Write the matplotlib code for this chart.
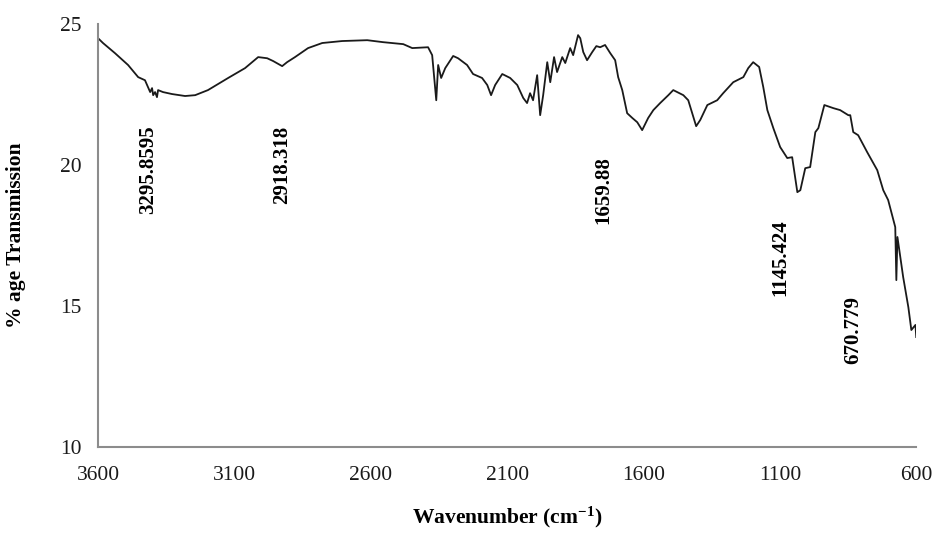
import matplotlib
matplotlib.use("Agg")
import matplotlib.pyplot as plt

# Spectrum: wavenumber (cm-1) and % transmission
wavenumber = [3600, 3582, 3538, 3490, 3453, 3428, 3417, 3409, 3402, 3398, 3391, 3384,
              3380, 3362, 3329, 3281, 3244, 3197, 3123, 3061, 3013, 2980, 2958, 2925,
              2907, 2878, 2830, 2778, 2705, 2613, 2555, 2481, 2448, 2390, 2375, 2360,
              2353, 2342, 2327, 2298, 2280, 2247, 2225, 2192, 2173, 2159, 2144, 2118,
              2089, 2063, 2041, 2027, 2016, 2005, 1990, 1979, 1968, 1953, 1942, 1928,
              1917, 1898, 1887, 1869, 1858, 1840, 1832, 1821, 1807, 1788, 1773, 1759,
              1741, 1722, 1704, 1693, 1678, 1660, 1641, 1623, 1605, 1583, 1564, 1539,
              1509, 1491, 1454, 1436, 1407, 1392, 1366, 1330, 1308, 1271, 1234, 1216,
              1198, 1176, 1161, 1146, 1124, 1099, 1073, 1055, 1036, 1025, 1007, 989,
              970, 959, 937, 904, 879, 849, 842, 831, 813, 780, 743, 721, 703, 677,
              673, 669, 648, 629, 618, 603, 600]
transmission = [24.50, 24.33, 23.97, 23.55, 23.12, 23.01, 22.77, 22.59, 22.73, 22.48, 22.59, 22.41,
                22.66, 22.59, 22.52, 22.45, 22.48, 22.66, 23.09, 23.44, 23.83, 23.79, 23.69, 23.51,
                23.65, 23.83, 24.15, 24.33, 24.40, 24.43, 24.36, 24.29, 24.15, 24.18, 23.90, 22.30,
                23.55, 23.09, 23.44, 23.87, 23.79, 23.55, 23.23, 23.09, 22.84, 22.48, 22.84, 23.23,
                23.09, 22.84, 22.38, 22.20, 22.55, 22.30, 23.19, 21.77, 22.48, 23.65, 22.94, 23.83,
                23.30, 23.83, 23.62, 24.15, 23.90, 24.61, 24.50, 24.01, 23.72, 24.01, 24.22, 24.18,
                24.26, 23.97, 23.72, 23.12, 22.66, 21.84, 21.67, 21.52, 21.24, 21.67, 21.95, 22.20,
                22.48, 22.66, 22.48, 22.30, 21.38, 21.60, 22.13, 22.30, 22.55, 22.94, 23.12, 23.44,
                23.65, 23.48, 22.77, 21.95, 21.31, 20.64, 20.25, 20.28, 19.04, 19.11, 19.89, 19.93,
                21.17, 21.31, 22.13, 22.02, 21.95, 21.77, 21.77, 21.17, 21.06, 20.46, 19.82, 19.11,
                18.76, 17.80, 15.92, 17.45, 16.03, 14.96, 14.15, 14.33, 13.90]

peak_labels = ["3295.8595", "2918.318", "1659.88", "1145.424", "670.779"]
label_x = [3416, 2925, 1748, 1099, 831]
label_y = [19.82, 20.0, 19.11, 16.70, 14.15]

x_ticks = [3600, 3100, 2600, 2100, 1600, 1100, 600]
y_ticks = [10, 15, 20, 25]

serif = ["Liberation Serif", "DejaVu Serif"]
plt.rcParams["font.family"] = serif
plt.rcParams["mathtext.fontset"] = "custom"
plt.rcParams["mathtext.rm"] = "Liberation Serif:bold"
plt.rcParams["mathtext.bf"] = "Liberation Serif:bold"
plt.rcParams["mathtext.it"] = "Liberation Serif:bold:italic"

fig = plt.figure(figsize=(9.34, 5.36), dpi=100)
ax = fig.add_axes([0.105, 0.166, 0.876, 0.789])

ax.plot(wavenumber, transmission, color="#1a1a1a", linewidth=1.3)

ax.set_xlim(3600, 600)
ax.set_ylim(10, 25)
ax.set_xticks(x_ticks)
ax.set_yticks(y_ticks)
ax.tick_params(axis="both", length=0, labelsize=15.5, colors="#1a1a1a")
ax.tick_params(axis="x", pad=14)
ax.tick_params(axis="y", pad=12)

for s in ["top", "right"]:
    ax.spines[s].set_visible(False)
for s in ["left", "bottom"]:
    ax.spines[s].set_color("#8c8c8c")
    ax.spines[s].set_linewidth(1.5)

for txt, xv, yv in zip(peak_labels, label_x, label_y):
    ax.text(xv, yv, txt, rotation=90, ha="center", va="center",
            fontsize=15, fontweight="bold", color="black")

ax.set_xlabel("Wavenumber (cm$^{\\mathrm{-1}}$)", fontsize=15.5, fontweight="bold", labelpad=14)
ax.set_ylabel("% age Transmission", fontsize=15.5, fontweight="bold", labelpad=24)

fig.savefig("out.png", dpi=100)
